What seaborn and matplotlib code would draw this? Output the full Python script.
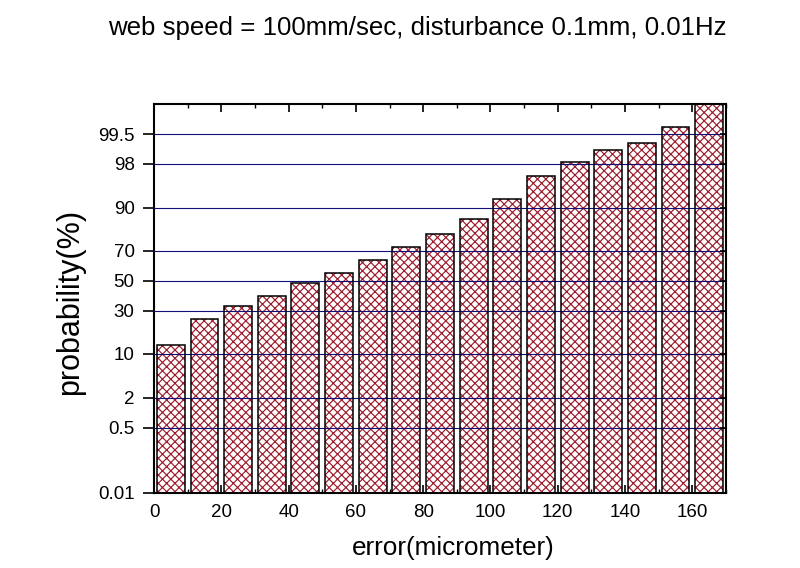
import numpy as np
import pandas as pd
import matplotlib
matplotlib.use("Agg")
import matplotlib.pyplot as plt
import seaborn as sns
from statistics import NormalDist

# ---- data ----
error_um = [5, 15, 25, 35, 45, 55, 65, 75, 85, 95, 105, 115, 125, 135, 145, 155, 165]
probability = [13.1, 25.2, 33.0, 39.6, 48.6, 55.6, 64.4, 72.4, 79.5, 86.2,
               92.5, 96.7, 98.16, 98.92, 99.23, 99.66, 99.95]
y_ticks = [0.01, 0.5, 2, 10, 30, 50, 70, 90, 98, 99.5]
y_tick_labels = ["0.01", "0.5", "2", "10", "30", "50", "70", "90", "98", "99.5"]
x_ticks = [0, 20, 40, 60, 80, 100, 120, 140, 160]
x_minor_ticks = [10, 30, 50, 70, 90, 110, 130, 150, 170]
title = "web speed = 100mm/sec, disturbance 0.1mm, 0.01Hz"
x_label = "error(micrometer)"
y_label = "probability(%)"

df = pd.DataFrame({"error": error_um, "prob": probability})

sns.set_style("ticks")
plt.rcParams["font.family"] = ["Liberation Sans", "DejaVu Sans"]
plt.rcParams["hatch.linewidth"] = 0.85
plt.rcParams["text.color"] = "black"
plt.rcParams["axes.labelcolor"] = "black"
plt.rcParams["xtick.color"] = "black"
plt.rcParams["ytick.color"] = "black"

_nd = NormalDist()
_ppf = np.vectorize(_nd.inv_cdf, otypes=[float])
_cdf = np.vectorize(_nd.cdf, otypes=[float])


def probit(p):
    p = np.clip(np.asarray(p, dtype=float) / 100.0, 1e-7, 1 - 1e-7)
    return _ppf(p)


def inv_probit(z):
    z = np.clip(np.asarray(z, dtype=float), -8, 8)
    return _cdf(z) * 100.0


fig = plt.figure(figsize=(8, 5.68), dpi=100)
ax = fig.add_axes([0.1925, 0.132, 0.715, 0.685])

# hatch layer
sns.barplot(data=df, x="error", y="prob", native_scale=True, ax=ax,
            color="white", saturation=1, width=0.83, errorbar=None,
            edgecolor="#9c1c2c", linewidth=0, hatch="xxxx", zorder=1)
# outline layer
sns.barplot(data=df, x="error", y="prob", native_scale=True, ax=ax,
            color="black", fill=False, saturation=1, width=0.83,
            errorbar=None, linewidth=1.1, zorder=3)

ax.set_yscale("function", functions=(probit, inv_probit))
ax.set_ylim(0.0098, 99.905)
ax.set_xlim(0, 170)

ax.set_yticks(y_ticks)
ax.set_yticklabels(y_tick_labels)
ax.yaxis.set_minor_locator(matplotlib.ticker.NullLocator())
ax.set_xticks(x_ticks)
ax.set_xticklabels([str(v) for v in x_ticks])
ax.set_xticks(x_minor_ticks, minor=True)

ax.grid(axis="y", color="#10107a", linewidth=0.8, zorder=2)
ax.grid(axis="x", visible=False)
ax.set_axisbelow(False)

for s in ax.spines.values():
    s.set_linewidth(1.5)
    s.set_color("black")
    s.set_visible(True)

ax.tick_params(axis="x", which="major", direction="in", length=6, width=1.2,
               top=True, bottom=True, labelsize=13.5, pad=8, labelcolor="black")
ax.tick_params(axis="x", which="minor", direction="in", length=3, width=1.0,
               top=True, bottom=True)
ax.tick_params(axis="y", which="major", direction="out", length=8, width=1.2,
               left=True, right=False, labelsize=13.5, pad=6, labelcolor="black")

# right-side inward ticks
ax2 = ax.twinx()
ax2.set_yscale("function", functions=(probit, inv_probit))
ax2.set_ylim(ax.get_ylim())
ax2.set_yticks(y_ticks)
ax2.yaxis.set_minor_locator(matplotlib.ticker.NullLocator())
ax2.tick_params(axis="y", direction="in", length=4, width=1.2, labelright=False)
ax2.grid(False)
for s in ax2.spines.values():
    s.set_visible(False)

ax.set_xlabel(x_label, fontsize=18.8, va="center", color="black")
ax.xaxis.set_label_coords(0.524, -0.141)
ax.set_ylabel(y_label, fontsize=22, va="center", ha="center", color="black")
ax.yaxis.set_label_coords(-0.147, 0.49)

fig.text(417 / 800, 1 - 28 / 568, title, fontsize=18.6, ha="center", va="center",
         color="black")

fig.savefig("out.png", dpi=100)
